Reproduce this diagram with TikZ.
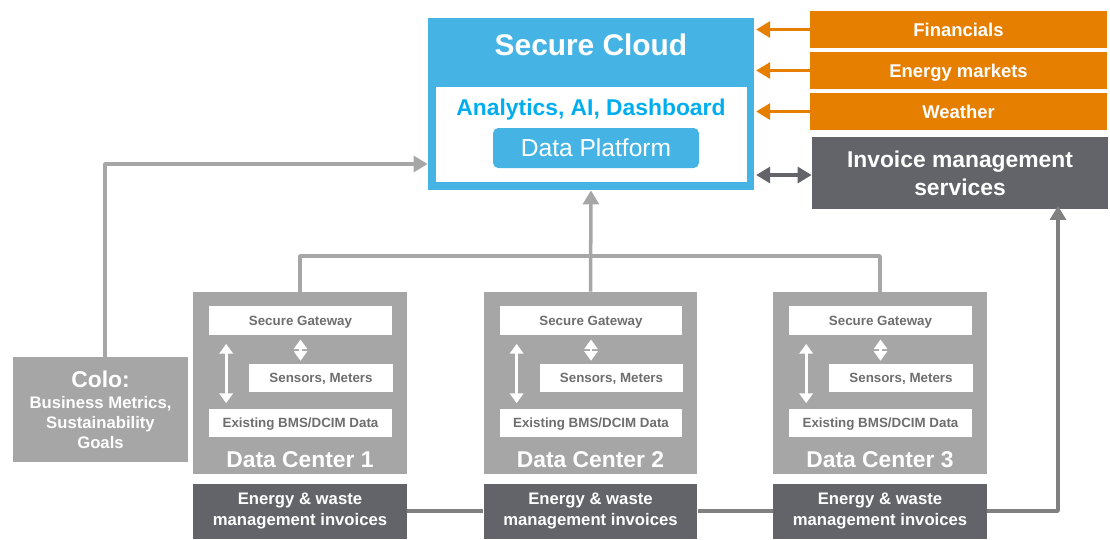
\documentclass[tikz,border=0pt]{standalone}
\usepackage{fontspec}
\setmainfont{Liberation Sans}
\usepackage{xcolor}
\usetikzlibrary{arrows.meta}
\definecolor{cloudblue}{HTML}{45B4E5}
\definecolor{textblue}{HTML}{00AEEF}
\definecolor{feedorange}{HTML}{E67E00}
\definecolor{darkbox}{HTML}{636469}
\definecolor{lightbox}{HTML}{A6A6A6}
\definecolor{innertext}{HTML}{6E6E6E}
\definecolor{busline}{HTML}{808080}
\tikzset{
  every picture/.style={line join=round, >=Triangle},
  box/.style={rectangle, inner sep=0pt, align=center},
  oneline/.style={box, text depth=0pt},
  feed/.style={oneline, fill=feedorange, text=white, minimum width=5.94cm, minimum height=0.74cm,
    font=\bfseries\fontsize{10.5}{12.6}\selectfont},
  darkinv/.style={box, fill=darkbox, text=white, minimum width=4.28cm, minimum height=1.1cm,
    font=\bfseries\fontsize{9.5}{12.4}\selectfont},
  dcbox/.style={box, fill=lightbox, minimum width=4.28cm, minimum height=3.64cm},
  inbox/.style={oneline, fill=white, text=innertext, minimum height=0.57cm,
    font=\bfseries\fontsize{7.6}{9}\selectfont},
  dctitle/.style={oneline, text=white, font=\bfseries\fontsize{13}{15}\selectfont},
  feedarrow/.style={->, feedorange, line width=2pt, >={Triangle[length=8pt,width=9pt]}},
  grayarrow/.style={->, lightbox, line width=2pt, >={Triangle[length=8pt,width=9pt]}},
  grayline/.style={lightbox, line width=2pt},
  busarrow/.style={->, busline, line width=2pt, >={Triangle[length=8pt,width=9pt]}},
  whitearrow/.style={<->, white, line width=1.7pt, >={Triangle[length=5.5pt,width=7.5pt]}},
}

\begin{document}
\begin{tikzpicture}[x=0.02cm,y=-0.02cm]
\useasboundingbox (0,0) rectangle (1110,539);

\node[box,fill=cloudblue,minimum width=6.52cm,minimum height=3.44cm](cloud) at (591,104){};
\node[oneline,text=white,font=\bfseries\fontsize{17}{20}\selectfont](cloudtitle) at (591,45){Secure Cloud};
\node[box,fill=white,minimum width=6.22cm,minimum height=1.9cm](apps) at (591.5,134.5){};
\node[oneline,text=textblue,font=\bfseries\fontsize{13}{15}\selectfont](analytics) at (591,107){Analytics, AI, Dashboard};
\node[oneline,fill=cloudblue,rounded corners=3pt,minimum width=4.12cm,minimum height=0.8cm,text=white,
  font=\fontsize{14}{16}\selectfont](platform) at (596,148){Data Platform};

\node[feed](fin) at (958.5,29.5){Financials};
\node[feed](mkt) at (958.5,70.5){Energy markets};
\node[feed](wth) at (958.5,111.5){Weather};
\foreach \f in {fin,mkt,wth}
  \draw[feedarrow] (\f.west) -- ([xshift=1pt]cloud.east |- \f.west);

\node[box,fill=darkbox,text=white,minimum width=5.92cm,minimum height=1.44cm,
  font=\bfseries\fontsize{13}{16}\selectfont](ims) at (960,173){Invoice management\\services};
\draw[<->,darkbox,line width=2pt,>={Triangle[length=8pt,width=9pt]}]
  ([xshift=1pt,yshift=-0.04cm]cloud.east |- ims.west) -- ([yshift=-0.04cm]ims.west);

\node[box,fill=lightbox,text=white,minimum width=3.5cm,minimum height=2.1cm,
  font=\bfseries\fontsize{9.5}{11.3}\selectfont](colo) at (100.5,409.5)
  {{\fontsize{13}{15}\selectfont Colo:}\\[1pt]Business Metrics,\\Sustainability\\Goals};
\draw[grayarrow] ([xshift=0.09cm]colo.north) |- ([yshift=-1.2cm]cloud.west);

\foreach \i/\x in {1/300,2/590.5,3/880}{
  \node[dcbox](dc\i) at (\x,383){};
  \node[inbox,minimum width=3.66cm](gw\i) at (\x+0.5,320.5){Secure Gateway};
  \node[inbox,minimum width=2.88cm](sen\i) at (\x+21,378){Sensors, Meters};
  \node[inbox,minimum width=3.66cm](bms\i) at (\x+0.5,423){Existing BMS/DCIM Data};
  \node[dctitle](dct\i) at (\x,460){Data Center \i};
  \draw[whitearrow,shorten <=5pt,shorten >=3pt]
    ([xshift=0.35cm]gw\i.south west) -- ([xshift=0.35cm]bms\i.north west);
  \draw[whitearrow,shorten <=2.5pt,shorten >=1.5pt]
    (gw\i.south) -- (gw\i.south |- sen\i.north);
  \node[darkinv](inv\i) at (\x,511){Energy \& waste\\management invoices};
}

\coordinate (bus) at (590.5,256);
\draw[grayline] (dc1.north) |- (bus) -| (dc3.north);
\draw[grayarrow] (dc2.north) -- (cloud.south);

\draw[busline,line width=2pt] (inv1) -- (inv2) (inv2) -- (inv3);
\draw[busarrow,shorten >=-2pt] (inv3.east) -| ([xshift=1.96cm]ims.south);
\end{tikzpicture}
\end{document}
